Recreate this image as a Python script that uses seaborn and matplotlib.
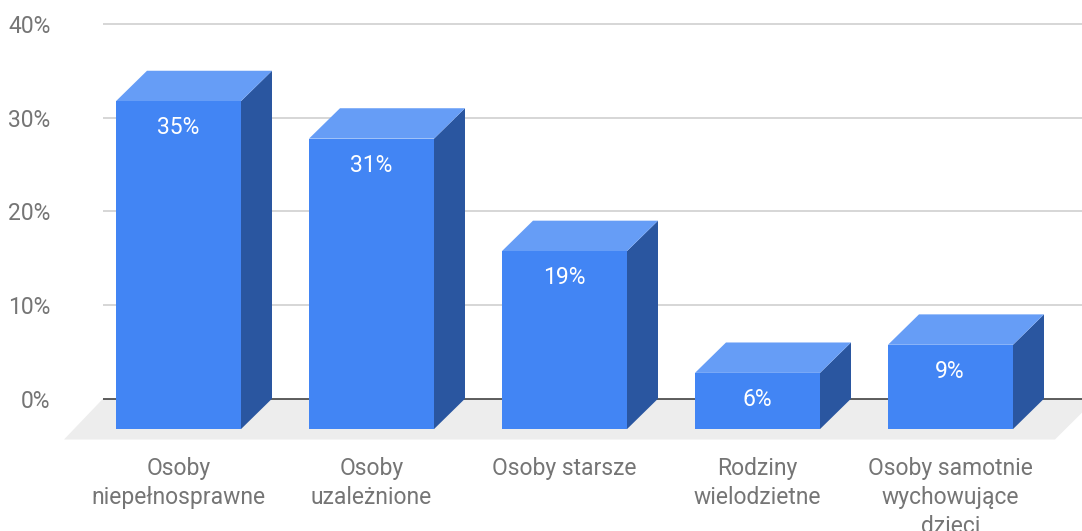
import matplotlib
matplotlib.use("Agg")
import matplotlib.pyplot as plt
import seaborn as sns

# Dane z wykresu
kategorie = ["Osoby\nniepełnosprawne", "Osoby\nuzależnione", "Osoby starsze",
             "Rodziny\nwielodzietne", "Osoby samotnie\nwychowujące\ndzieci"]
wartosci = [35, 31, 19, 6, 9]
etykiety = ["35%", "31%", "19%", "6%", "9%"]
siatka = [10, 20, 30, 40]
ticki_y = [0, 10, 20, 30, 40]
ticki_y_txt = ["0%", "10%", "20%", "30%", "40%"]

# Przeliczniki pikseli na jednostki danych
W, H = 1082, 531
PX_X = 193.0      # odstep kategorii
PX_Y = 9.37       # pikseli na 1%
X0, Y0 = 178.5, 398.7
dx = 31 / PX_X    # glebokosc 3D
dy = 30.4 / PX_Y


def data_x(px):
    return (px - X0) / PX_X


def data_y(px):
    return (Y0 - px) / PX_Y


sns.set_style("white")
plt.rcParams["font.family"] = ["Roboto", "DejaVu Sans"]

fig = plt.figure(figsize=(W / 100, H / 100), dpi=100)
ax = fig.add_axes([0, 0, 1, 1])
ax.patch.set_alpha(0)

# Przednie sciany slupkow
sns.barplot(x=kategorie, y=wartosci, color="#4285F4", saturation=1, width=125 / PX_X,
            bottom=-dy, linewidth=0, zorder=5, ax=ax)

ax.set_xlim(data_x(0), data_x(W))
ax.set_ylim(data_y(H), data_y(0))

# Podloga i linie siatki
ax.fill([data_x(103), data_x(1096), data_x(1055), data_x(64)],
        [0, 0, data_y(439.5), data_y(439.5)], color="#EDEDED", lw=0, zorder=1)
ax.hlines(siatka, data_x(103), data_x(W), color="#CCCCCC", lw=1.1, zorder=2)
ax.hlines(0, data_x(103), data_x(W), color="#333333", lw=1.1, zorder=3)

# Bok, wierzch i etykieta kazdego slupka
for bar, txt in zip(ax.containers[0], etykiety):
    x1 = bar.get_x()
    x2 = x1 + bar.get_width()
    top = bar.get_y() + bar.get_height()
    bot = bar.get_y()
    ax.fill([x2, x2 + dx, x2 + dx, x2], [bot, bot + dy, top + dy, top],
            color="#2A56A0", lw=0, zorder=4)
    ax.fill([x1, x1 + dx, x2 + dx, x2], [top, top + dy, top + dy, top],
            color="#669DF6", lw=0, zorder=4)
    ax.text((x1 - 1 / PX_X + x2) / 2, top - 26.5 / PX_Y, txt, color="white", fontsize=16.5,
            ha="center", va="center", zorder=6)

# Osie
sns.despine(ax=ax, left=True, bottom=True)
ax.spines["bottom"].set_position(("data", data_y(439.5)))
ax.spines["left"].set_position(("data", data_x(50.5)))
ax.set_xticks(range(len(kategorie)), kategorie)
ax.set_yticks(ticki_y, ticki_y_txt)
ax.tick_params(axis="x", length=0, pad=12.5, labelsize=16.5, labelcolor="#757575")
ax.tick_params(axis="y", length=0, pad=0, labelsize=16.5, labelcolor="#757575")
for lab in ax.get_xticklabels():
    lab.set_linespacing(1.33)

fig.savefig("out.png", dpi=100)
